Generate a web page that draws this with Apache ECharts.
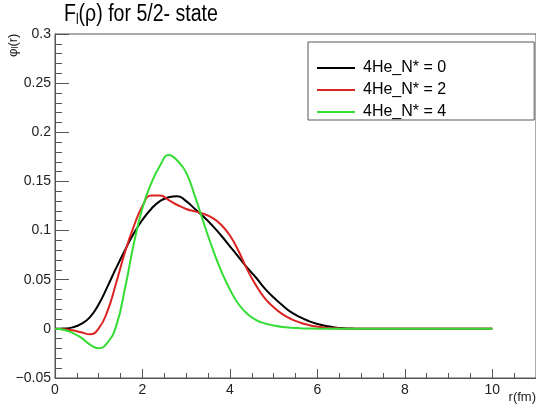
<!DOCTYPE html>
<html>
<head>
<meta charset="utf-8">
<script src="https://cdn.jsdelivr.net/npm/echarts@6/dist/echarts.min.js"></script>
<style>
html,body{margin:0;padding:0;background:#fff;}
#charts{width:536px;height:413px;}
</style>
</head>
<body>
<div id="charts"></div>
<script>
// r (fm) sample points
var rVals = [0,0.2,0.4,0.6,0.8,1.0,1.2,1.4,1.6,1.8,2.0,2.2,2.4,2.6,2.8,3.0,3.2,3.4,3.6,3.8,
             4.0,4.2,4.4,4.6,4.8,5.0,5.2,5.4,5.6,5.8,6.0,6.2,6.4,6.6,6.8,7.0,8,9,10];
// 4He_N* = 0
var phiN0 = [0,0.0003,0.0015,0.005,0.012,0.025,0.043,0.062,0.080,0.097,0.111,0.122,0.130,0.134,0.135,0.130,0.122,0.114,0.105,0.095,
             0.084,0.073,0.062,0.052,0.041,0.032,0.024,0.017,0.012,0.008,0.005,0.003,0.0015,0.0007,0.0003,0.0001,0,0,0];
// 4He_N* = 2
var phiN2 = [0,-0.0004,-0.0015,-0.0035,-0.0055,0.0005,0.018,0.047,0.078,0.104,0.125,0.1358,0.1358,0.131,0.126,0.122,0.1195,0.117,0.113,0.106,
             0.095,0.079,0.060,0.044,0.031,0.022,0.015,0.010,0.0065,0.004,0.0022,0.001,0.0005,0.0002,0.0001,0,0,0,0];
// 4He_N* = 4
var phiN4 = [0,-0.001,-0.004,-0.009,-0.016,-0.0197,-0.014,0.003,0.041,0.086,0.123,0.148,0.166,0.177,0.171,0.159,0.135,0.108,0.082,0.059,
             0.040,0.025,0.015,0.009,0.0055,0.0035,0.002,0.0012,0.0007,0.0004,0.0002,0.0001,0,0,0,0,0,0,0];
var seriesNames = ['4He_N* = 0','4He_N* = 2','4He_N* = 4'];
var seriesColors = ['#000000','#dd2222','#33dd33'];

function pairs(ys){
	var arr = new Array();
	for(var i=0;i<rVals.length;i++){
		arr[i] = [rVals[i], ys[i]];
	}
	return arr;
}

var charts = echarts.init(document.getElementById('charts'));
var fontFam = '"Liberation Sans", Arial, sans-serif';
var allY = [phiN0, phiN2, phiN4];
var series = [];
for(var s=0;s<3;s++){
	series.push({
		name : seriesNames[s],
		type : 'line',
		smooth : 0.5,
		symbol : 'none',
		lineStyle : { color : seriesColors[s], width : 2 },
		itemStyle : { color : seriesColors[s] },
		data : pairs(allY[s])
	});
}

var option = {
	animation : false,
	legend : {
		orient : 'vertical',
		left : 308,
		top : 42,
		padding : [18, 88, 0, 9],
		icon : 'rect',
		itemWidth : 38,
		itemHeight : 2,
		itemGap : 6,
		borderColor : '#555',
		borderWidth : 1,
		textStyle : { fontSize : 16, fontFamily : fontFam, color : '#000', padding : [0,0,0,3] },
		data : seriesNames
	},
	grid : {
		left : 55,
		top : 34,
		right : -1,
		bottom : 35,
		show : true,
		borderColor : '#555',
		borderWidth : 1
	},
	xAxis : {
		type : 'value',
		min : 0,
		max : 11,
		interval : 2,
		axisLine : { onZero : false, lineStyle : { color : '#555' } },
		axisTick : { inside : true, length : 9, lineStyle : { color : '#555' } },
		minorTick : { show : true, splitNumber : 4, length : 5, lineStyle : { color : '#555' } },
		splitLine : { show : false },
		axisLabel : { showMaxLabel : false, fontSize : 14, fontFamily : fontFam, color : '#222', margin : 5 }
	},
	yAxis : {
		type : 'value',
		min : -0.05,
		max : 0.3,
		interval : 0.05,
		axisLine : { show : true, lineStyle : { color : '#555' } },
		axisTick : { show : true, inside : true, length : 14, lineStyle : { color : '#555' } },
		minorTick : { show : true, splitNumber : 5, length : 7, lineStyle : { color : '#555' } },
		splitLine : { show : false },
		axisLabel : {
			fontSize : 14, fontFamily : fontFam, color : '#222', margin : 4,
			formatter : function(v){ return String(parseFloat(v.toFixed(2))).replace('-', '\u2212'); }
		}
	},
	graphic : [{
		// title
		type : 'text',
		x : 64,
		y : 15,
		scaleX : 0.85,
		style : {
			text : '{a|F}{s|l}{a|(ρ) for 5/2- state}',
			verticalAlign : 'middle',
			rich : {
				a : { fontSize : 23, fontFamily : fontFam, fill : '#000' },
				s : { fontSize : 14, fontFamily : fontFam, fill : '#000', verticalAlign : 'bottom', padding : [11,0,0,0] }
			}
		}
	},{
		type : 'text',
		x : 6,
		y : 57,
		rotation : Math.PI/2,
		style : {
			text : '{a|φ}{s|l}{a|(r)}',
			rich : {
				a : { fontSize : 13, fontFamily : fontFam, fill : '#222' },
				s : { fontSize : 9, fontFamily : fontFam, fill : '#222', verticalAlign : 'bottom', padding : [5,0,0,0] }
			}
		}
	},{
		type : 'text',
		right : 0,
		top : 391,
		style : { text : 'r(fm)', fontSize : 13, fontFamily : fontFam, fill : '#222' }
	}],
	series : series
};
charts.setOption(option);
</script>
</body>
</html>
